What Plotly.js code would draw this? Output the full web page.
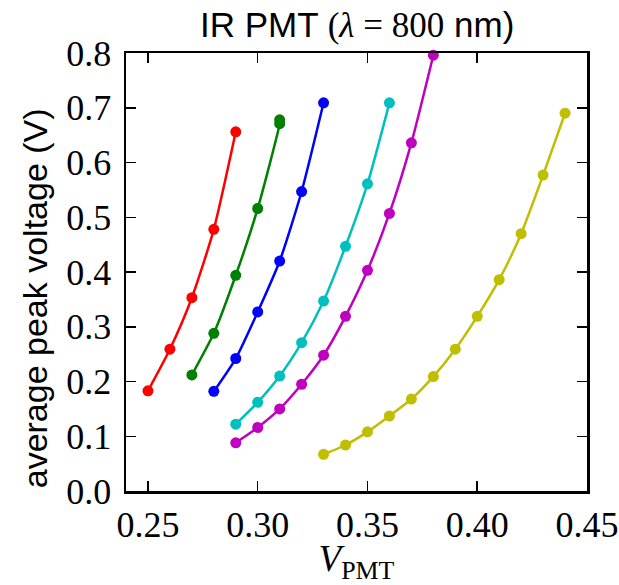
<!DOCTYPE html>
<html>
<head>
<meta charset="utf-8">
<script src="https://cdn.plot.ly/plotly-3.0.1.min.js"></script>
<style>html,body{margin:0;padding:0;background:#fff;}</style>
</head>
<body>
<div id="chart" style="width:619px;height:585px;"></div>
<script>
// V_PMT values and average peak voltages for each curve
const redX = [0.25, 0.26, 0.27, 0.28, 0.29];
const redY = [0.183, 0.259, 0.353, 0.478, 0.656];

const greenX = [0.27, 0.28, 0.29, 0.30, 0.31, 0.31];
const greenY = [0.212, 0.288, 0.394, 0.516, 0.671, 0.678];

const blueX = [0.28, 0.29, 0.30, 0.31, 0.32, 0.33];
const blueY = [0.182, 0.242, 0.327, 0.420, 0.547, 0.709];

const cyanX = [0.29, 0.30, 0.31, 0.32, 0.33, 0.34, 0.35, 0.36];
const cyanY = [0.122, 0.162, 0.210, 0.271, 0.347, 0.447, 0.561, 0.709];

const magentaX = [0.29, 0.30, 0.31, 0.32, 0.33, 0.34, 0.35, 0.36, 0.37, 0.38];
const magentaY = [0.088, 0.116, 0.150, 0.195, 0.248, 0.319, 0.403, 0.507, 0.636, 0.796];

const yellowX = [0.33, 0.34, 0.35, 0.36, 0.37, 0.38, 0.39, 0.40, 0.41, 0.42, 0.43, 0.44];
const yellowY = [0.067, 0.084, 0.108, 0.137, 0.168, 0.209, 0.259, 0.319, 0.386, 0.470, 0.577, 0.690];

const xTicks = [0.25, 0.30, 0.35, 0.40, 0.45];
const xTickLabels = ["0.25", "0.30", "0.35", "0.40", "0.45"];
const yTicks = [0.0, 0.1, 0.2, 0.3, 0.4, 0.5, 0.6, 0.7, 0.8];
const yTickLabels = ["0.0", "0.1", "0.2", "0.3", "0.4", "0.5", "0.6", "0.7", "0.8"];

const titleText = "IR PMT <span style=\"font-family:'Liberation Serif'\">(<i>λ</i> = 800</span> nm)";
const yTitleText = "average peak voltage (V)";

const series = [
  {x: redX, y: redY, color: "#ff0000"},
  {x: greenX, y: greenY, color: "#008000"},
  {x: blueX, y: blueY, color: "#0000ff"},
  {x: cyanX, y: cyanY, color: "#00bfbf"},
  {x: magentaX, y: magentaY, color: "#bf00bf"},
  {x: yellowX, y: yellowY, color: "#bfbf00"}
];

const traces = series.map(s => ({
  x: s.x, y: s.y, type: "scatter", mode: "lines+markers",
  line: {color: s.color, width: 2.5, shape: "spline", smoothing: 0.6},
  marker: {color: s.color, size: 11},
  showlegend: false, cliponaxis: false
}));

const serif = "Liberation Serif, DejaVu Serif, serif";
const sans = "Liberation Sans, Arial, sans-serif";

const layout = {
  width: 619, height: 585,
  margin: {l: 126, r: 32, t: 53, b: 94},
  paper_bgcolor: "#fff", plot_bgcolor: "#fff",
  annotations: [
    {
      text: titleText, xref: "paper", yref: "paper",
      x: 0.5, y: 1.0, xanchor: "center", yanchor: "bottom", yshift: 6,
      showarrow: false, font: {family: sans, size: 35, color: "#000"}
    },
    {
      text: yTitleText, xref: "paper", yref: "paper", textangle: -90,
      x: -0.1974, y: 0.44, xanchor: "center", yanchor: "middle",
      showarrow: false, font: {family: sans, size: 34, color: "#000"}
    }
  ],
  xaxis: {
    range: [0.24, 0.45],
    tickvals: xTicks, ticktext: xTickLabels,
    ticks: "inside", ticklen: 10, tickwidth: 1.5, tickcolor: "#000",
    showline: true, linecolor: "#000", linewidth: 2.5, mirror: "ticks",
    showgrid: false, zeroline: false,
    tickfont: {family: serif, size: 36, color: "#000"},
    title: {text: "<i>V</i><sub>PMT</sub>", font: {family: serif, size: 37, color: "#000"}, standoff: 4}
  },
  yaxis: {
    range: [0, 0.8],
    tickvals: yTicks, ticktext: yTickLabels,
    ticks: "inside", ticklen: 10, tickwidth: 1.5, tickcolor: "#000",
    showline: true, linecolor: "#000", linewidth: 2.5, mirror: "ticks",
    showgrid: false, zeroline: false, ticklabelstandoff: 5,
    tickfont: {family: serif, size: 36, color: "#000"}
  }
};

Plotly.newPlot("chart", traces, layout, {displayModeBar: false, staticPlot: true});
</script>
</body>
</html>
